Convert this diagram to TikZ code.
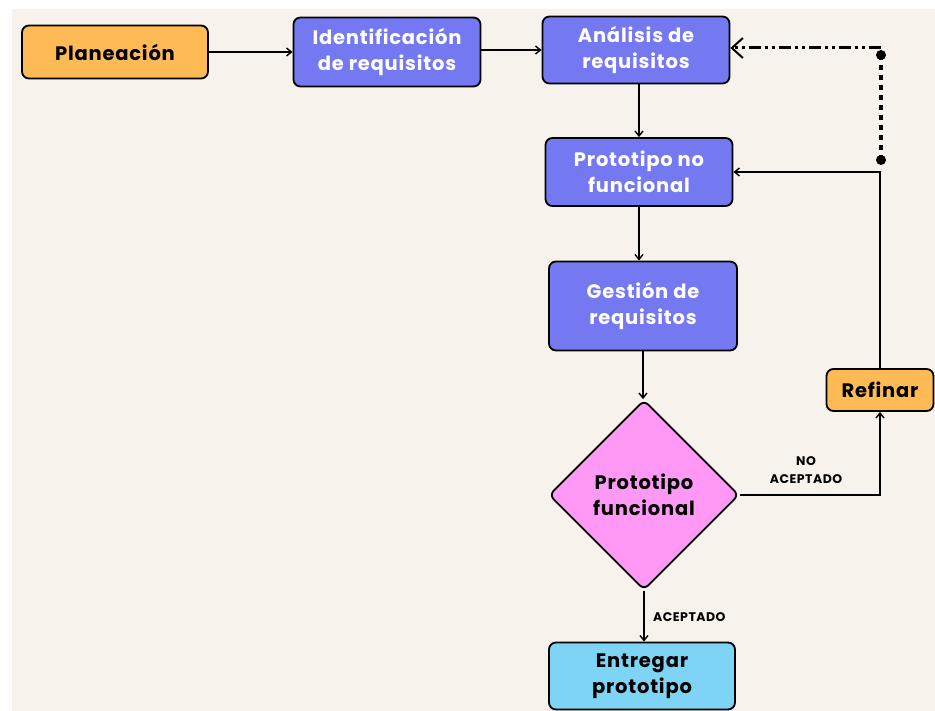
\documentclass[tikz,border=0pt]{standalone}
\usepackage{fontspec}
\setmainfont{Poppins}[LetterSpace=4]
\usetikzlibrary{shapes.geometric,arrows.meta}
\definecolor{bgc}{HTML}{F7F3EC}
\definecolor{orangec}{HTML}{FDBA55}
\definecolor{bluec}{HTML}{7479F2}
\definecolor{pinkc}{HTML}{FF99F5}
\definecolor{cyanc}{HTML}{7DD4F5}
\tikzset{
  boxfont/.style={font=\bfseries\fontsize{19.5}{26}\selectfont},
  box/.style={draw=black, line width=1.8pt, rounded corners=7pt, align=center,
     boxfont, inner sep=0pt},
  bluebox/.style={box, fill=bluec, text=white},
  orbox/.style={box, fill=orangec, text=black},
  cybox/.style={box, fill=cyanc, text=black},
  conn/.style={line width=1.6pt, -{Straight Barb[length=5pt,width=8pt,line width=1.4pt]}},
  lab/.style={font=\bfseries\fontsize{12.5}{18}\selectfont, align=center, inner sep=0pt}
}
\begin{document}
\begin{tikzpicture}[x=1pt,y=-1pt]
\useasboundingbox (0,0) rectangle (935,711);
\fill[white] (0,0) rectangle (935,711);
\fill[bgc] (12,9) rectangle (935,711);

\node[orbox, minimum width=186pt, minimum height=53pt] (plan) at (115,52) {Planeación};
\node[bluebox, minimum width=187pt, minimum height=69pt] (ident) at (387,52) {Identificación\\de requisitos};
\node[bluebox, minimum width=187pt, minimum height=67pt] (anal) at (636,50) {Análisis de\\requisitos};
\node[bluebox, minimum width=187pt, minimum height=68pt] (proto) at (639,172) {Prototipo no\\funcional};
\node[bluebox, minimum width=188pt, minimum height=89pt] (gest) at (643,306) {Gestión de\\requisitos};
\node[draw=black, line width=1.8pt, fill=pinkc, diamond, aspect=1, minimum width=190pt, minimum height=190pt,
      rounded corners=6pt, inner sep=0pt, align=center, boxfont] (dia) at (644,495) {Prototipo\\funcional};
\node[cybox, minimum width=186pt, minimum height=67pt] (entr) at (642,676) {Entregar\\prototipo};
\node[orbox, minimum width=107pt, minimum height=42pt] (ref) at (880,390) {Refinar};

\coordinate (d0) at (881,48);
\coordinate (d1) at (881,55);
\coordinate (d2) at (881,160);

\draw[conn] (plan.east) -- (ident.west |- plan.east);
\draw[conn] (ident.east |- anal.west) -- (anal.west);
\draw[conn] (anal.south -| proto.north) -- (proto.north);
\draw[conn] (proto.south) -- (proto.south |- gest.north);
\draw[conn] (gest.south) -- (gest.south |- dia.north);
\draw[conn] (dia.south) -- (dia.south |- entr.north);
\draw[conn] (dia.east) -| (ref.south);
\draw[conn] (ref.north) -- (ref.north |- proto.east) -- (proto.east);

\draw[line width=3.6pt, dash pattern=on 5pt off 5pt] (d1) -- (d2);
\fill (d1) circle (5pt);
\fill (d2) circle (5pt);
\draw[line width=3pt, dash pattern=on 12pt off 4pt on 3pt off 4pt on 3pt off 4pt,
      -{Straight Barb[length=11pt,width=20pt,line width=2pt]}] (d0) -- (d0 -| anal.east);

\node[lab] (nolab) at (806,470) {NO\\ACEPTADO};
\node[lab, anchor=west] (aclab) at (653,617) {ACEPTADO};
\end{tikzpicture}
\end{document}
